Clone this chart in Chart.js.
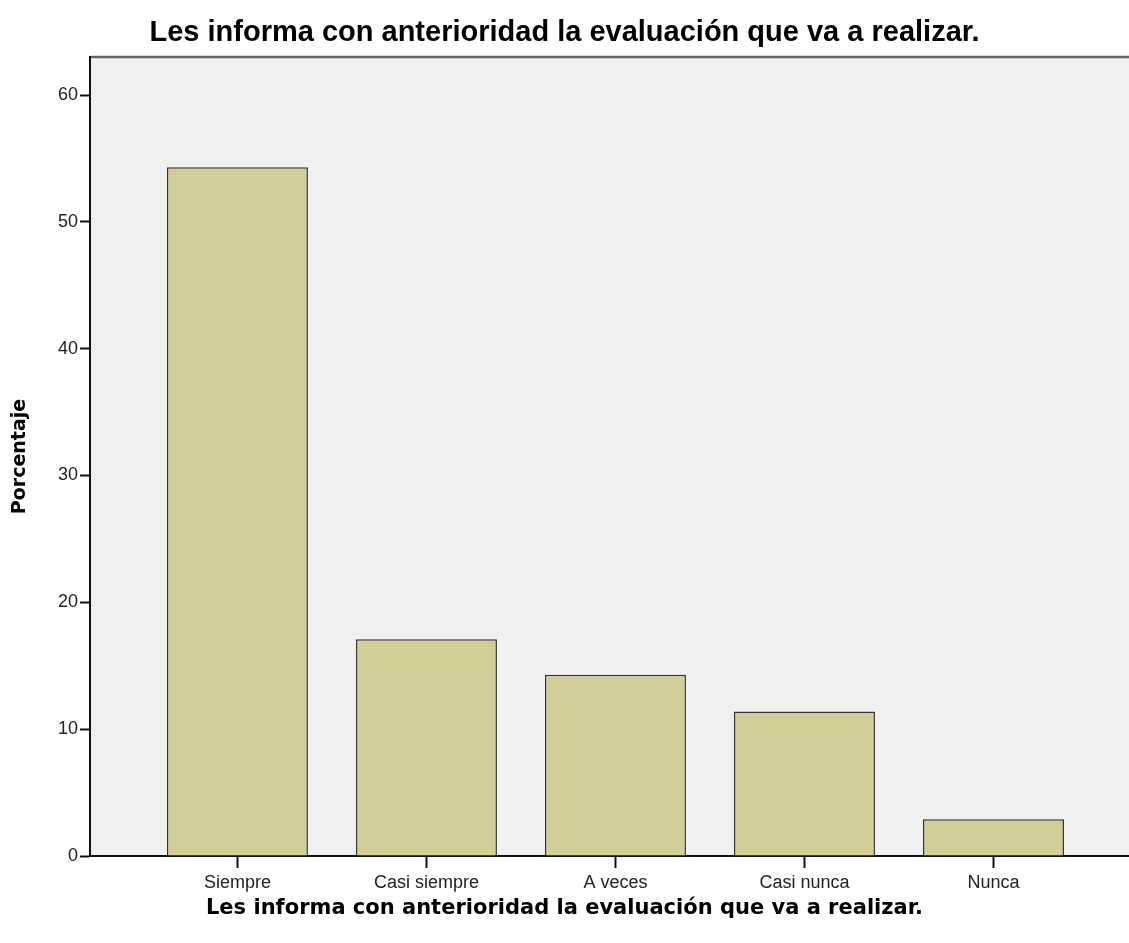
<!DOCTYPE html>
<html>
<head>
<meta charset="utf-8">
<script src="https://cdn.jsdelivr.net/npm/chart.js@4"></script>
<style>
  html, body { margin: 0; padding: 0; background: #fff; }
  #wrap { width: 1129px; height: 943px; }
</style>
</head>
<body>
<div id="wrap"><canvas id="chart" width="1129" height="943"></canvas></div>
<script>
const titleText = 'Les informa con anterioridad la evaluación que va a realizar.';
const categories = ['Siempre', 'Casi siempre', 'A veces', 'Casi nunca', 'Nunca'];
const percentages = [54.3, 17.1, 14.3, 11.4, 2.9];
const yTicks = [0, 10, 20, 30, 40, 50, 60];

// gray plot background + top frame line
const plotFrame = {
  id: 'plotFrame',
  beforeDraw(c) {
    const { ctx, chartArea: a } = c;
    ctx.save();
    ctx.fillStyle = '#f0f0f0';
    ctx.fillRect(a.left, a.top, a.right - a.left, a.bottom - a.top);
    ctx.strokeStyle = '#666';
    ctx.lineWidth = 2.5;
    ctx.beginPath();
    ctx.moveTo(a.left, a.top);
    ctx.lineTo(a.right, a.top);
    ctx.stroke();
    ctx.restore();
  }
};

const ctx = document.getElementById('chart').getContext('2d');
new Chart(ctx, {
  type: 'bar',
  data: {
    datasets: [{
      data: categories.map((c, i) => ({ x: i, y: percentages[i] })),
      backgroundColor: '#d3ce98',
      borderColor: '#333',
      borderWidth: 1.5,
      barPercentage: 0.746,
      categoryPercentage: 1
    }]
  },
  options: {
    responsive: false,
    animation: false,
    layout: { padding: 0 },
    plugins: {
      legend: { display: false },
      tooltip: { enabled: false },
      title: {
        display: true,
        text: titleText,
        color: '#000',
        font: { family: 'Liberation Sans', size: 29, weight: 'bold' },
        padding: { top: 15.6, bottom: 6.6 }
      },
      subtitle: {
        display: true,
        position: 'bottom',
        text: titleText,
        color: '#000',
        font: { family: 'DejaVu Sans', size: 21, weight: 'bold' },
        padding: { top: 4, bottom: 22 }
      }
    },
    scales: {
      x: {
        type: 'linear',
        offset: false,
        min: -0.78,
        max: 4.717,
        afterBuildTicks: s => { s.ticks = categories.map((c, i) => ({ value: i })); },
        afterFit: s => { s.height = 35.8; },
        ticks: {
          includeBounds: false,
          callback: v => categories[v],
          color: '#222',
          font: { family: 'Liberation Sans', size: 18 },
          padding: 4,
          maxRotation: 0
        },
        grid: { offset: false, drawOnChartArea: false, tickLength: 12, tickColor: '#111', tickWidth: 2 },
        border: { color: '#111', width: 2 }
      },
      y: {
        min: 0,
        max: 63,
        afterBuildTicks: s => { s.ticks = yTicks.map(v => ({ value: v })); },
        afterFit: s => { s.width = 90; },
        ticks: {
          includeBounds: false,
          color: '#222',
          font: { family: 'Liberation Sans', size: 18 },
          padding: 2
        },
        grid: { drawOnChartArea: false, tickLength: 10, tickColor: '#111', tickWidth: 2 },
        border: { color: '#111', width: 2 },
        title: {
          display: true,
          text: 'Porcentaje',
          color: '#000',
          font: { family: 'DejaVu Sans', size: 19, weight: 'bold' },
          padding: { top: 8.6, bottom: 0 }
        }
      }
    }
  },
  plugins: [plotFrame]
});
</script>
</body>
</html>
